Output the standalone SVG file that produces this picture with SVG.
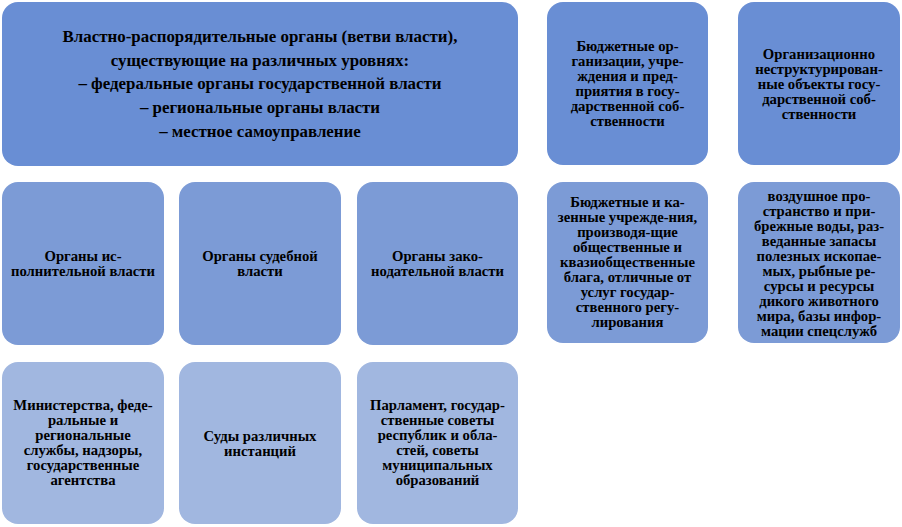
<svg xmlns="http://www.w3.org/2000/svg" width="902" height="527" viewBox="0 0 902 527">
<style>
.l1{fill:#698ed4}
.l2{fill:#7c9bd6}
.l3{fill:#a1b7e0}
text{font-family:"Liberation Serif","Times New Roman",serif;font-weight:bold;fill:#000;text-anchor:middle}
.big{font-size:16.9px}
.sm{font-size:14.7px}
</style>
<rect width="902" height="527" fill="#fff"/>
<g id="connectors"></g>
<g id="n-main">
<rect class="l1" x="2" y="2" width="516" height="164" rx="16"/>
<text class="big"><tspan x="260" y="42">Властно-распорядительные органы (ветви власти),</tspan><tspan x="260" y="66">существующие на различных уровнях:</tspan><tspan x="260" y="89">– федеральные органы государственной власти</tspan><tspan x="260" y="113">– региональные органы власти</tspan><tspan x="260" y="137">– местное самоуправление</tspan></text>
</g>
<g id="n-budget">
<rect class="l1" x="547" y="2" width="161" height="163" rx="16"/>
<text class="sm"><tspan x="627.5" y="51">Бюджетные ор-</tspan><tspan x="627.5" y="66">ганизации, учре-</tspan><tspan x="627.5" y="81">ждения и пред-</tspan><tspan x="627.5" y="96">приятия в госу-</tspan><tspan x="627.5" y="111">дарственной соб-</tspan><tspan x="627.5" y="126">ственности</tspan></text>
</g>
<g id="n-unstruct">
<rect class="l1" x="738" y="2" width="162" height="163" rx="16"/>
<text class="sm"><tspan x="819" y="59">Организационно</tspan><tspan x="819" y="74">неструктурирован-</tspan><tspan x="819" y="89">ные объекты госу-</tspan><tspan x="819" y="104">дарственной соб-</tspan><tspan x="819" y="119">ственности</tspan></text>
</g>
<g id="n-exec">
<rect class="l2" x="2" y="182" width="162" height="163" rx="16"/>
<text class="sm"><tspan x="83" y="261">Органы ис-</tspan><tspan x="83" y="276">полнительной власти</tspan></text>
</g>
<g id="n-judicial">
<rect class="l2" x="179" y="182" width="162" height="163" rx="16"/>
<text class="sm"><tspan x="260" y="261">Органы судебной</tspan><tspan x="260" y="276">власти</tspan></text>
</g>
<g id="n-legis">
<rect class="l2" x="357" y="182" width="161" height="163" rx="16"/>
<text class="sm"><tspan x="437.5" y="261">Органы зако-</tspan><tspan x="437.5" y="276">нодательной власти</tspan></text>
</g>
<g id="n-treasury">
<rect class="l2" x="547" y="182" width="161" height="161" rx="16"/>
<text class="sm"><tspan x="627.5" y="207">Бюджетные и ка-</tspan><tspan x="627.5" y="222">зенные учрежде-ния,</tspan><tspan x="627.5" y="237">производя-щие</tspan><tspan x="627.5" y="252">общественные и</tspan><tspan x="627.5" y="267">квазиобщественные</tspan><tspan x="627.5" y="282">блага, отличные от</tspan><tspan x="627.5" y="297">услуг государ-</tspan><tspan x="627.5" y="312">ственного регу-</tspan><tspan x="627.5" y="327">лирования</tspan></text>
</g>
<g id="n-resources">
<rect class="l2" x="738" y="182" width="162" height="161" rx="16"/>
<text class="sm"><tspan x="819" y="201">воздушное про-</tspan><tspan x="819" y="216">странство и при-</tspan><tspan x="819" y="231">брежные воды, раз-</tspan><tspan x="819" y="246">веданные запасы</tspan><tspan x="819" y="261">полезных ископае-</tspan><tspan x="819" y="276">мых, рыбные ре-</tspan><tspan x="819" y="291">сурсы и ресурсы</tspan><tspan x="819" y="306">дикого животного</tspan><tspan x="819" y="321">мира, базы инфор-</tspan><tspan x="819" y="336">мации спецслужб</tspan></text>
</g>
<g id="n-ministries">
<rect class="l3" x="2" y="362" width="162" height="162" rx="16"/>
<text class="sm"><tspan x="83" y="410">Министерства, феде-</tspan><tspan x="83" y="425">ральные и</tspan><tspan x="83" y="440">региональные</tspan><tspan x="83" y="455">службы, надзоры,</tspan><tspan x="83" y="470">государственные</tspan><tspan x="83" y="485">агентства</tspan></text>
</g>
<g id="n-courts">
<rect class="l3" x="179" y="362" width="162" height="162" rx="16"/>
<text class="sm"><tspan x="260" y="441">Суды различных</tspan><tspan x="260" y="456">инстанций</tspan></text>
</g>
<g id="n-parliament">
<rect class="l3" x="357" y="362" width="161" height="162" rx="16"/>
<text class="sm"><tspan x="437.5" y="410">Парламент, государ-</tspan><tspan x="437.5" y="425">ственные советы</tspan><tspan x="437.5" y="440">республик и обла-</tspan><tspan x="437.5" y="455">стей, советы</tspan><tspan x="437.5" y="470">муниципальных</tspan><tspan x="437.5" y="485">образований</tspan></text>
</g>
</svg>
